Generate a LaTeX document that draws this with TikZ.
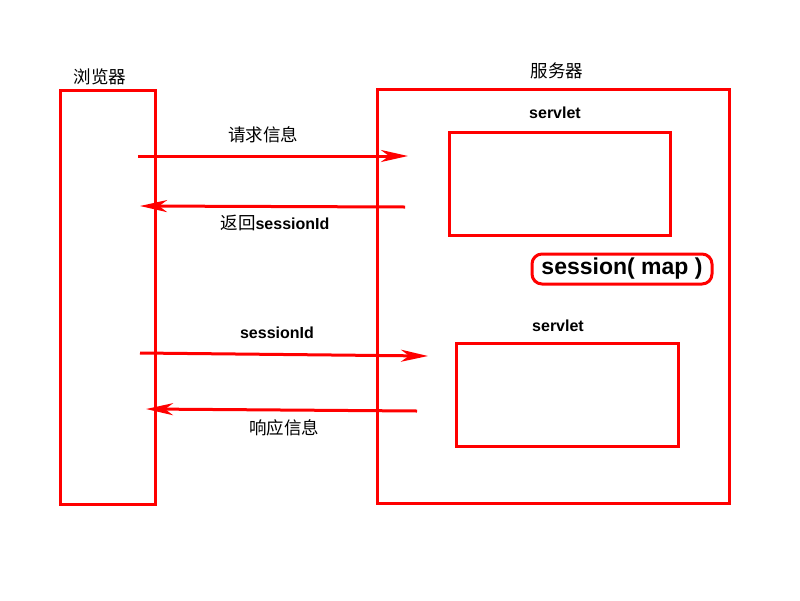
\documentclass[tikz,border=0pt]{standalone}
\usepackage{fontspec}
\setmainfont{Liberation Sans}
\newfontfamily\cjk{Noto Sans CJK SC}
\usetikzlibrary{arrows.meta}
\tikzstyle{box}=[draw=red, line width=3pt, inner sep=0, outer sep=0]
\tikzstyle{msg}=[draw=red, line width=3pt, -{Stealth[length=27pt,width=12pt,inset=8pt]}]
\tikzstyle{cn}=[font=\cjk\fontsize{17.5}{20}\selectfont, inner sep=0]
\tikzstyle{en}=[font=\bfseries\fontsize{16}{19}\selectfont, inner sep=0]

\begin{document}
\begin{tikzpicture}[x=1pt,y=-1pt]
\useasboundingbox (0,0) rectangle (800,600);

% boxes
\node[box, minimum width=95pt, minimum height=414pt] (browser) at (107.5,297) {};
\node[box, minimum width=352pt, minimum height=414pt] (server) at (553,296) {};
\node[box, minimum width=221pt, minimum height=103pt] (servletA) at (559.5,183.5) {};
\node[box, minimum width=222pt, minimum height=103pt] (servletB) at (567,394.5) {};
\node[box, rounded corners=10pt, minimum width=180pt, minimum height=30pt] (map) at (622,269)
  {\bfseries\fontsize{23}{26}\selectfont session( map )};

% titles
\node[cn] (browsertitle) at (100,77) {浏览器};
\node[cn] (servertitle) at (557,71) {服务器};
\node[en] (servletAtitle) at (555,113) {servlet};
\node[en] (servletBtitle) at (558,326) {servlet};

% message ends
\coordinate (reqA) at (138,156);
\coordinate (reqB) at (408,156);
\coordinate (idA) at (405,207);
\coordinate (idB) at (140,206);
\coordinate (sendA) at (140,353);
\coordinate (sendB) at (428,356);
\coordinate (respA) at (417,411);
\coordinate (respB) at (146,409);

\draw[msg] (reqA) -- (reqB);
\draw[msg] (idA) -- (idB);
\draw[msg] (sendA) -- (sendB);
\draw[msg] (respA) -- (respB);

% labels
\node[cn] (reqlabel) at (263,135) {请求信息};
\node[inner sep=0] (idlabel) at (275,223) {{\cjk\fontsize{17.5}{20}\selectfont 返回}{\bfseries\fontsize{16}{19}\selectfont sessionId}};
\node[en] (sendlabel) at (277,333) {sessionId};
\node[cn] (resplabel) at (284,428) {响应信息};
\end{tikzpicture}
\end{document}
